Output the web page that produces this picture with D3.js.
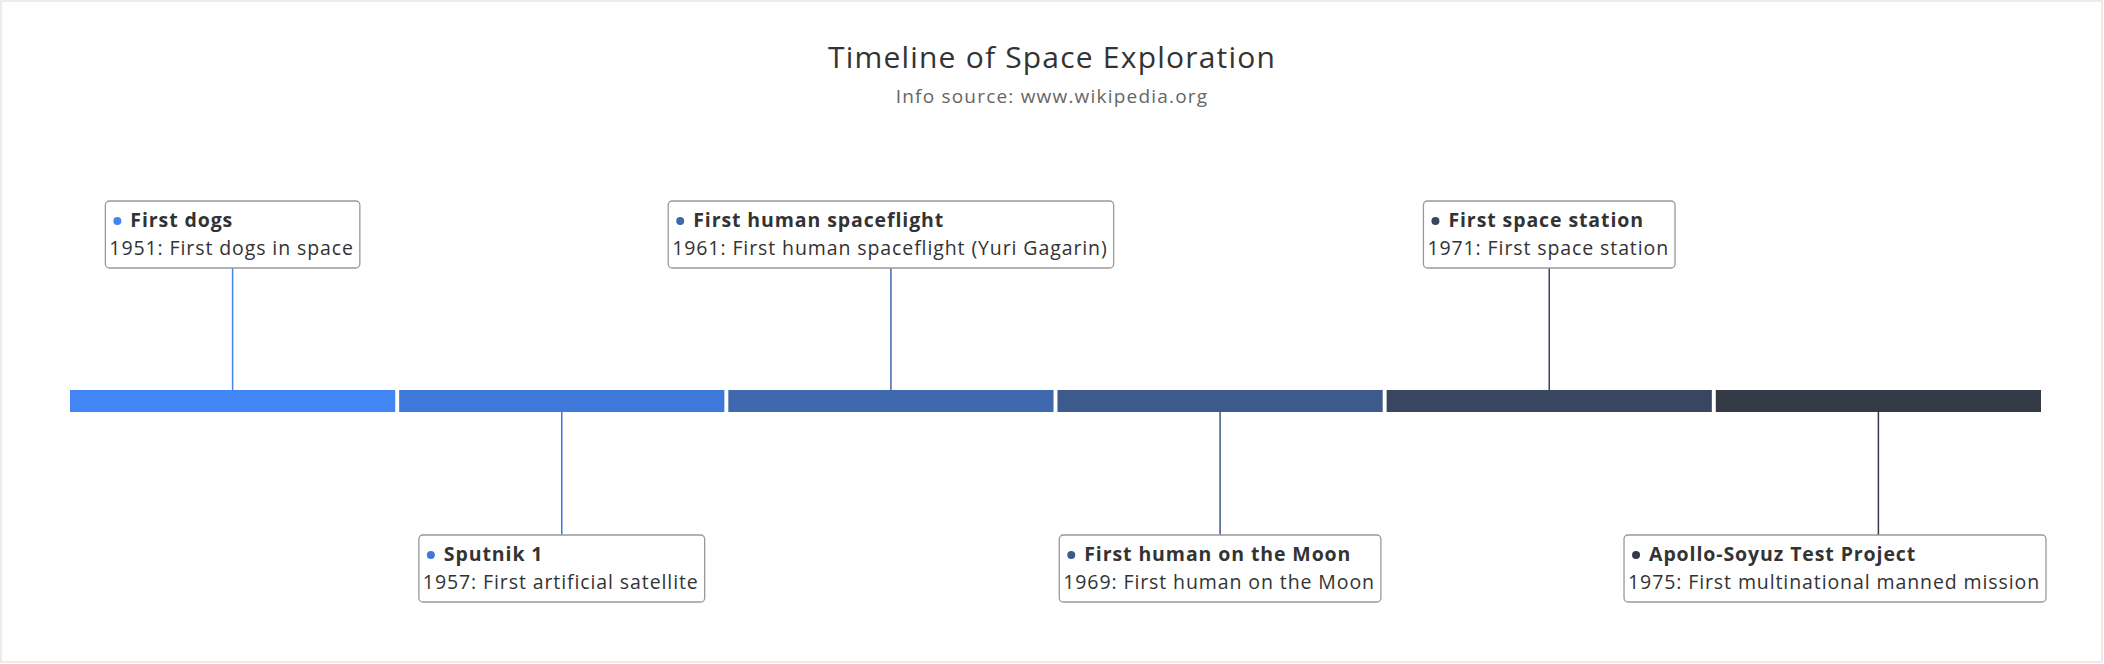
<!DOCTYPE html>
<meta charset="utf-8">
<style>
body { margin: 0; background: #fff; }
svg { font-family: "Open Sans", "DejaVu Sans", sans-serif; }
</style>
<body>
<div id="box1"></div>
</body>
<script src="https://d3js.org/d3.v7.min.js"></script>
<script>

var width = 2104, height = 664;

// data
var years = [1951, 1957, 1961, 1969, 1971, 1975];
var names = ["First dogs", "Sputnik 1", "First human spaceflight", "First human on the Moon", "First space station", "Apollo-Soyuz Test Project"];
var descriptions = ["First dogs in space", "First artificial satellite", "First human spaceflight (Yuri Gagarin)", "First human on the Moon", "First space station", "First multinational manned mission"];
var colorList = ["#4285f4", "#3e79da", "#3f68ad", "#3d5a8c", "#39465f", "#333a45"];

var svg = d3.select("#box1").append("svg")
    .attr("width", width)
    .attr("height", height)

svg.append("rect")
    .attr("x", 1).attr("y", 1)
    .attr("width", width - 3).attr("height", height - 3)
    .attr("fill", "#fff").attr("stroke", "#e6e6e6").attr("stroke-width", 1.5)

svg.append("text")
    .attr("x", width / 2).attr("y", 68)
    .attr("text-anchor", "middle")
    .style("font-size", "30px").style("letter-spacing", "1.2px").style("fill", "#333")
    .text("Timeline of Space Exploration")

svg.append("text")
    .attr("x", width / 2).attr("y", 103)
    .attr("text-anchor", "middle")
    .style("font-size", "19px").style("letter-spacing", "1.2px").style("fill", "#666")
    .text("Info source: www.wikipedia.org")

var xScale = d3.scaleBand(years, [70, 2041]).paddingInner(0.012).paddingOuter(0)
var colors = d3.scaleOrdinal(years, colorList)

var barY = 390, barH = 22;

svg.selectAll("rect.seg")
    .data(years)
    .join("rect")
    .attr("class", "seg")
    .attr("x", d => xScale(d))
    .attr("y", barY)
    .attr("width", xScale.bandwidth())
    .attr("height", barH)
    .attr("fill", d => colors(d))

var topBox = 201, botBox = 535, boxH = 67;

var items = svg.selectAll("g.item")
    .data(years)
    .join("g")
    .attr("class", "item")

items.each(function(d, i) {
  var g = d3.select(this);
  var cx = xScale(d) + xScale.bandwidth() / 2;
  var up = i % 2 === 0;
  var by = up ? topBox : botBox;

  g.append("line")
    .attr("x1", cx).attr("x2", cx)
    .attr("y1", up ? by + boxH : barY + barH)
    .attr("y2", up ? barY : by)
    .attr("stroke", colors(d)).attr("stroke-width", 1.5)

  var rect = g.append("rect")
    .attr("y", by).attr("height", boxH)
    .attr("rx", 4)
    .attr("fill", "#fff").attr("stroke", "#999").attr("stroke-width", 1.3)

  var t1 = g.append("text")
    .attr("y", by + 26)
    .style("font-size", "19.5px").style("letter-spacing", "0.9px")
    .style("font-weight", "bold").style("fill", "#333")
    .text(names[i])
  var t2 = g.append("text")
    .attr("y", by + 54)
    .style("font-size", "19.5px").style("letter-spacing", "0.9px").style("fill", "#333")
    .text(d + ": " + descriptions[i])

  var w = Math.max(t1.node().getComputedTextLength() + 21, t2.node().getComputedTextLength()) + 10;
  var x0 = cx - w / 2;
  if (x0 + w > width - 58) x0 = width - 58 - w;
  rect.attr("x", x0).attr("width", w)
  t1.attr("x", x0 + 25)
  t2.attr("x", x0 + 4)
  g.append("circle")
    .attr("cx", x0 + 12).attr("cy", by + 20).attr("r", 4)
    .attr("fill", colors(d))
})

</script>
